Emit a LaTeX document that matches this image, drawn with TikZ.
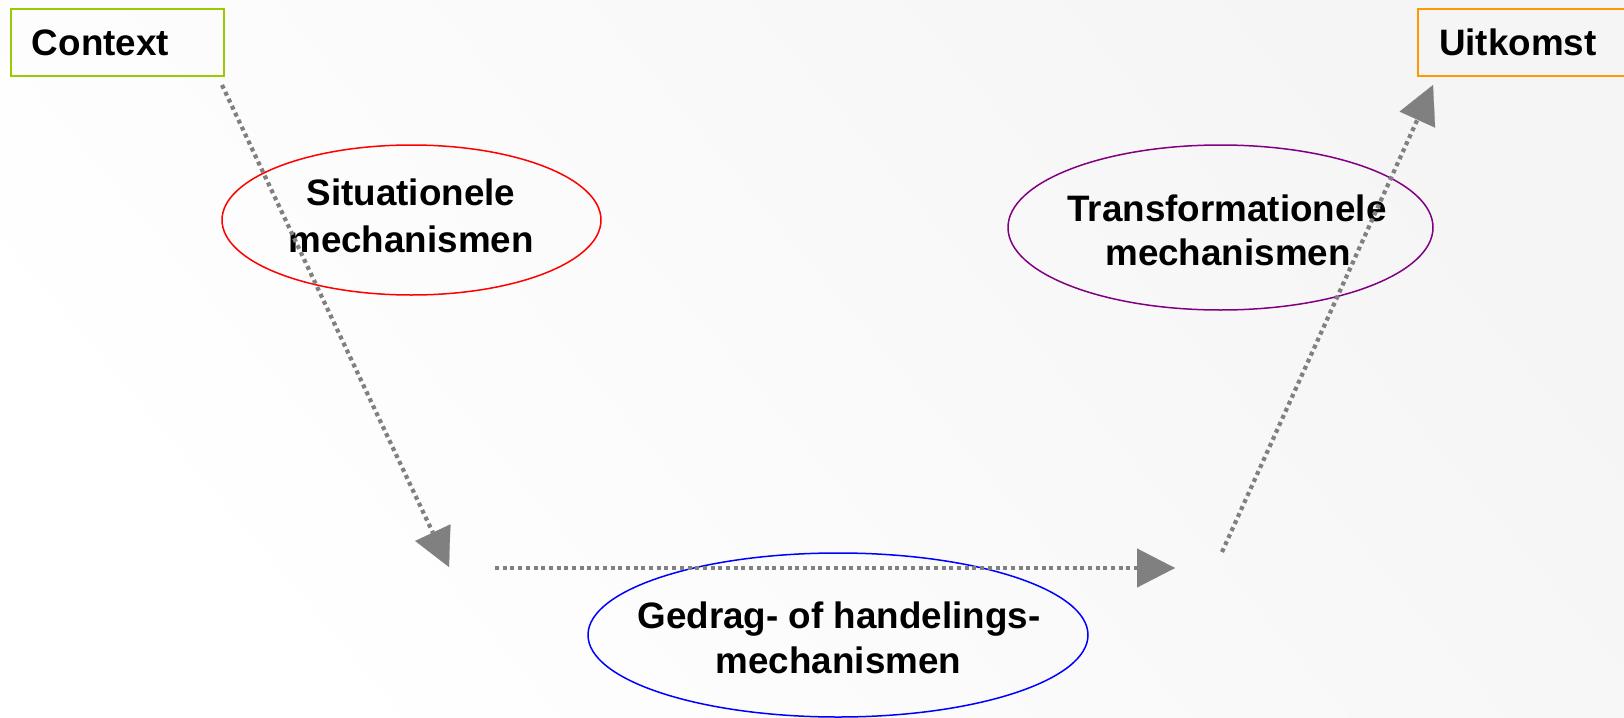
\documentclass[tikz,border=0pt]{standalone}
\usepackage{fontspec}
\setmainfont{Liberation Sans}
\usetikzlibrary{arrows.meta,shapes.geometric}
\definecolor{ctxgreen}{HTML}{99CC00}
\definecolor{outorange}{HTML}{FF9900}
\definecolor{sitred}{HTML}{FF0000}
\definecolor{trpurple}{HTML}{800080}
\definecolor{gdblue}{HTML}{0000FF}
\definecolor{arrowgray}{HTML}{808080}
\definecolor{bgdark}{HTML}{F5F5F5}
\begin{document}
\begin{tikzpicture}[x=0.5pt,y=-0.5pt,
  lbl/.style={font=\fontsize{18.4pt}{22pt}\selectfont\bfseries, inner sep=0pt, anchor=base},
  ell/.style={ellipse, draw, line width=0.75pt, inner sep=0pt},
  box/.style={draw, line width=1pt, anchor=north west, inner xsep=10.5pt, inner ysep=0pt,
              minimum width=106.5pt, minimum height=33.5pt, text width=85.5pt, align=left,
              font=\fontsize{18.4pt}{22pt}\selectfont\bfseries},
  flow/.style={draw=arrowgray, line width=2.1pt, dash pattern=on 2pt off 1.85pt,
               -{Triangle[length=19pt,width=19.5pt,line width=0.1pt]}}
]
\useasboundingbox (0,0) rectangle (1624,718);
\shade[top color=bgdark, bottom color=white, shading angle=-50] (0,0) rectangle (1624,718);

% boxes
\node[box, draw=ctxgreen] (ctx) at (10,8) {Context};
\node[box, draw=outorange] (out) at (1417,8) {Uitkomst};

% ellipses
\node[ell, draw=sitred, minimum width=189.5pt, minimum height=75pt] (sit) at (411.5,220) {};
\node[lbl] (sitA) at (411,205) {Situationele};
\node[lbl] (sitB) at (411,252) {mechanismen};

\node[ell, draw=trpurple, minimum width=212.5pt, minimum height=82.5pt] (tr) at (1220.5,227.5) {};
\node[lbl] (trA) at (1227,221) {Transformationele};
\node[lbl] (trB) at (1228,265) {mechanismen};

\node[ell, draw=gdblue, minimum width=250pt, minimum height=82pt] (gd) at (838,635) {};
\node[lbl] (gdA) at (839,628) {Gedrag- of handelings-};
\node[lbl] (gdB) at (838.5,673) {mechanismen};

% connectors
\coordinate (a1s) at (222,85);
\coordinate (a1e) at (449,567);
\coordinate (a2s) at (495,568);
\coordinate (a2e) at (1175,568);
\coordinate (a3s) at (1222,552);
\coordinate (a3e) at (1433,85);
\draw[flow] (a1s) -- (a1e);
\draw[flow] (a2s) -- (a2e);
\draw[flow] (a3s) -- (a3e);
\end{tikzpicture}
\end{document}
